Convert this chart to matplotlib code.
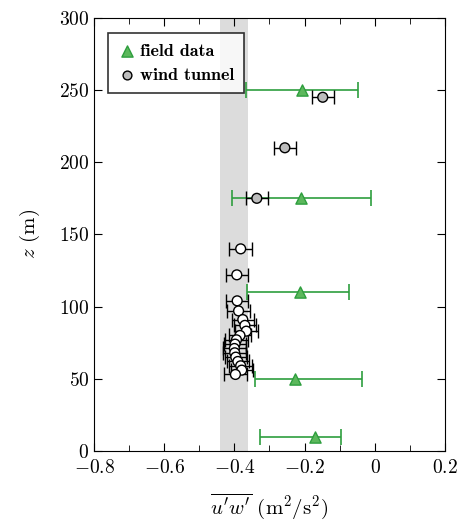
import numpy as np
import matplotlib
matplotlib.use("Agg")
import matplotlib.pyplot as plt
from matplotlib.ticker import MultipleLocator

plt.rcParams["font.family"] = ["cmr10", "DejaVu Serif"]
plt.rcParams["mathtext.fontset"] = "cm"
plt.rcParams["axes.formatter.use_mathtext"] = True
plt.rcParams["font.size"] = 14

# field measurements: height, mean flux, error bar ends
field_z = [250, 175, 110, 50, 10]
field_uw = [-0.207, -0.210, -0.213, -0.227, -0.170]
field_lo = [-0.367, -0.407, -0.364, -0.341, -0.327]
field_hi = [-0.048, -0.011, -0.073, -0.036, -0.096]

# wind tunnel profile (scaled to full size)
wt_z = [245, 210, 175, 140, 122, 104, 97, 91, 87, 83, 80, 77, 74, 71, 68,
        65, 62, 59, 56, 53]
wt_uw = [-0.148, -0.256, -0.336, -0.382, -0.393, -0.392, -0.388, -0.376,
         -0.370, -0.366, -0.384, -0.394, -0.398, -0.400, -0.399, -0.396,
         -0.390, -0.382, -0.379, -0.397]
wt_err = 0.032
wt_fill = ["#bdbdbd"] * 3 + ["white"] * 17

# shaded range of the reference value
band = (-0.44, -0.36)

fig = plt.figure(figsize=(4.59, 5.25), dpi=100)
ax = fig.add_axes([0.205, 0.141, 0.764, 0.825])

ax.axvspan(band[0], band[1], color="#dcdcdc", lw=0, zorder=0)

fz = np.array(field_z)
fu = np.array(field_uw)
ferr = [fu - np.array(field_lo), np.array(field_hi) - fu]
ax.errorbar(fu, fz, xerr=ferr, fmt="none", ecolor="#2e9e3e", elinewidth=1.2,
            capsize=6, capthick=1.2, zorder=2)
ax.scatter(fu, fz, marker="^", s=65, facecolor="#5cb85c", edgecolor="#2e9e3e",
           linewidth=1.0, zorder=4, label="field data")

ax.errorbar(wt_uw, wt_z, xerr=wt_err, fmt="none", ecolor="black",
            elinewidth=1.0, capsize=5, capthick=1.0, zorder=3)
ax.scatter(wt_uw, wt_z, marker="o", s=50, facecolor=wt_fill, edgecolor="black",
           linewidth=1.0, zorder=5)
ax.scatter([], [], marker="o", s=40, facecolor="#bdbdbd", edgecolor="black",
           linewidth=1.0, label="wind tunnel")

ax.set_xlim(-0.8, 0.2)
ax.set_ylim(0, 300)
ax.xaxis.set_major_locator(MultipleLocator(0.2))
ax.xaxis.set_minor_locator(MultipleLocator(0.1))
ax.yaxis.set_major_locator(MultipleLocator(50))
ax.tick_params(which="both", direction="in", top=True, right=True)
ax.tick_params(which="major", length=6)
ax.tick_params(which="minor", length=4)
ax.tick_params(axis="x", pad=6)
ax.xaxis.set_major_formatter(
    plt.FuncFormatter(lambda v, p: "0" if abs(v) < 1e-9 else f"${v:g}$"))

ax.set_xlabel(r"$\overline{u'w'}$ (m$^2$/s$^2$)", fontsize=15, labelpad=10)
ax.set_ylabel(r"$z$ (m)", fontsize=15, labelpad=12)

leg = ax.legend(loc="upper left", frameon=True, fancybox=False, handletextpad=0.2,
                borderpad=0.55, handlelength=1.0, labelspacing=0.45,
                prop={"family": "cmb10", "size": 13}, bbox_to_anchor=(0.015, 0.985))
leg.get_frame().set_edgecolor("black")
leg.get_frame().set_linewidth(1.2)

fig.savefig("out.png", dpi=100)
